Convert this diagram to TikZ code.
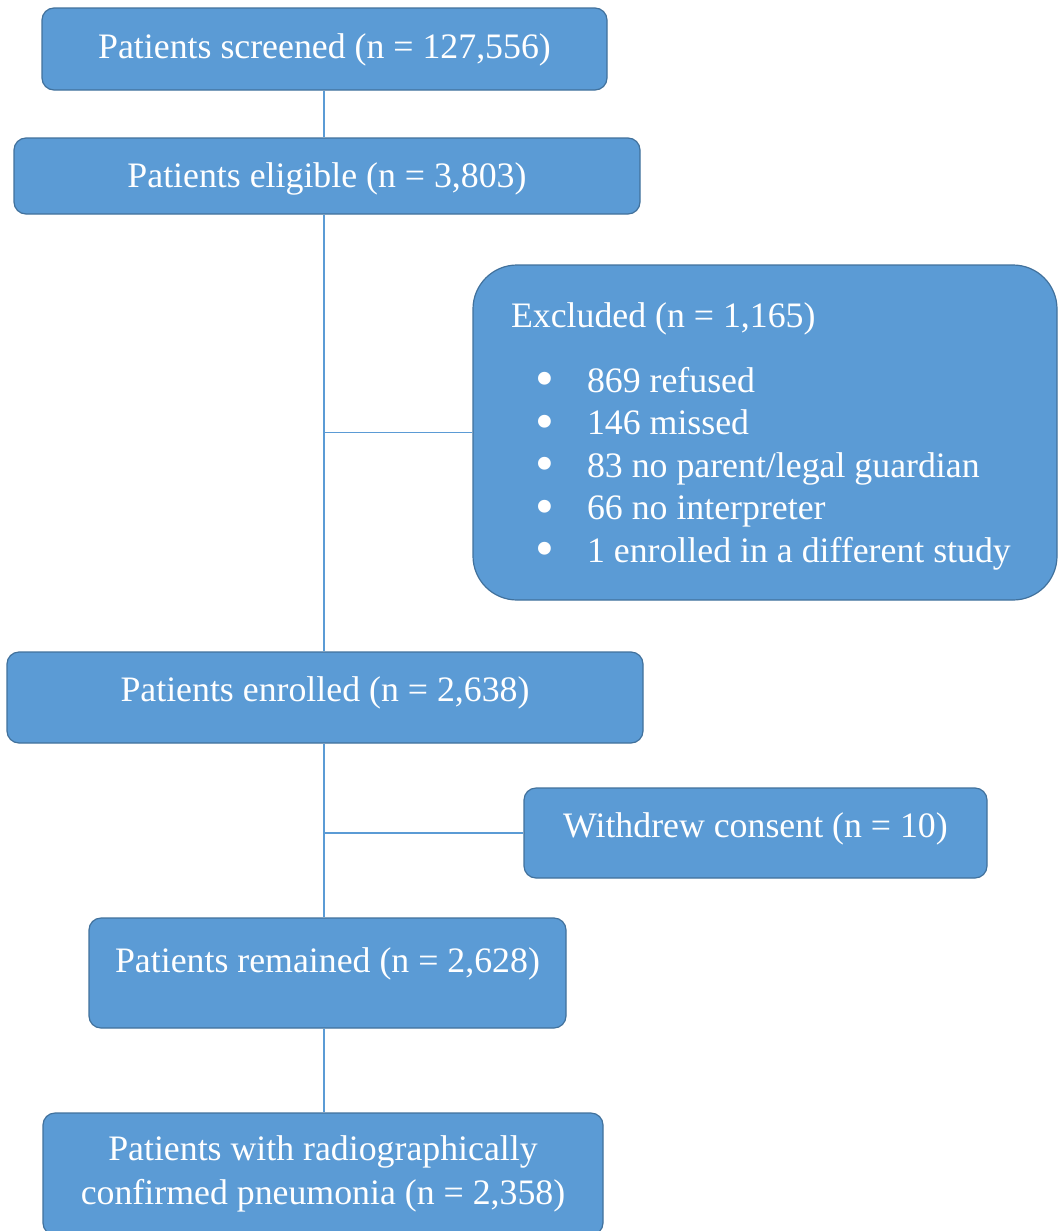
\documentclass[tikz,border=0pt]{standalone}
\usepackage{fontspec}
\setmainfont{Liberation Serif}
\usepackage{tikz}
\usetikzlibrary{positioning, calc}
\definecolor{boxblue}{HTML}{5B9BD5}
\definecolor{edgeblue}{HTML}{41719C}
\newcommand{\exitem}{\hspace*{12pt}\makebox[26pt][l]{\raisebox{-2.2pt}[0pt][0pt]{\scalebox{1.5}{\textbullet}}}}

\begin{document}
\begin{tikzpicture}[x=0.5pt, y=-0.5pt,
  box/.style={draw=edgeblue, line width=0.6pt, fill=boxblue, rounded corners=6pt, text=white, align=center, inner sep=0pt, font=\fontsize{17.9}{22}\selectfont},
  link/.style={draw=boxblue, line width=0.8pt}]
  \useasboundingbox (0,0) rectangle (1059,1231);
  \coordinate (trunk) at (324,0);
  \node[box, minimum width=282.5pt, text height=25pt, text depth=16pt] (scr) at (324.5,49) {Patients screened (n = 127,556)};
  \node[box, minimum width=313pt, text height=24.5pt, text depth=13.5pt] (elig) at (327,176) {Patients eligible (n = 3,803)};
  \node[box, rounded corners=22pt, minimum width=292pt, minimum height=167.5pt, text width=254pt, inner xsep=19pt, align=left,
    font=\fontsize{17.9}{21.25}\selectfont] (excl) at (765,432.5) {\spaceskip=0pt\xspaceskip=0pt\rule{0pt}{16pt}Excluded (n = 1,165)\\[11.25pt]
    \exitem 869 refused\\
    \exitem 146 missed\\
    \exitem 83 no parent/legal guardian\\
    \exitem 66 no interpreter\\
    \exitem 1 enrolled in a different study};
  \node[box, minimum width=318pt, text height=24.5pt, text depth=21pt] (enr) at (325,697.5) {Patients enrolled (n = 2,638)};
  \node[box, minimum width=231.5pt, text height=24.5pt, text depth=20.5pt] (wd) at (755.5,833) {Withdrew consent (n = 10)};
  \node[box, minimum width=238.5pt, text height=27.25pt, text depth=27.75pt] (rem) at (327.5,973) {Patients remained (n = 2,628)};
  \node[box, minimum width=280pt, minimum height=61pt] (pneu) at (323,1174) {Patients with radiographically\\ confirmed pneumonia (n = 2,358)};
  \draw[link] (scr.south -| trunk) -- (elig.north -| trunk);
  \draw[link] (elig.south -| trunk) -- (enr.north -| trunk);
  \draw[link] (enr.south -| trunk) -- (rem.north -| trunk);
  \draw[link] (rem.south -| trunk) -- (pneu.north -| trunk);
  \draw[link] (excl.west) -- (excl.west -| trunk);
  \draw[link] (wd.west) -- (wd.west -| trunk);
\end{tikzpicture}
\end{document}
